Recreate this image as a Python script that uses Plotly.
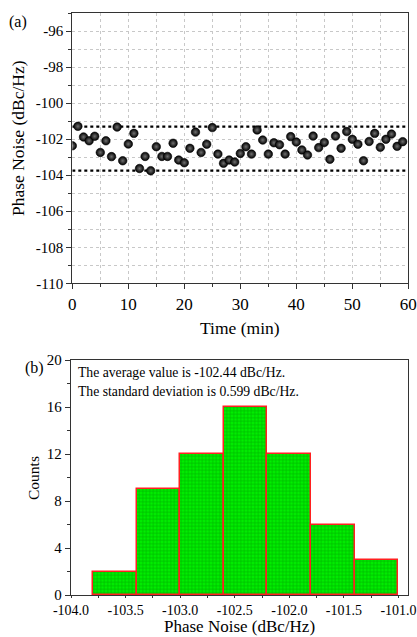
import plotly.graph_objects as go

# ---------------- data ----------------
time_min = list(range(60))
phase_noise = [
    -102.37, -101.29, -101.88, -102.09, -101.84, -102.74, -102.09, -102.97, -101.33, -103.20,
    -102.27, -101.68, -103.63, -102.96, -103.75, -102.42, -102.96, -102.96, -102.23, -103.16,
    -103.31, -102.51, -101.61, -102.74, -102.28, -101.36, -102.83, -103.34, -103.16, -103.27,
    -102.79, -102.42, -102.83, -101.49, -102.05, -102.83, -102.20, -102.31, -102.83, -101.86,
    -102.16, -102.60, -102.88, -101.83, -102.47, -102.18, -103.12, -101.83, -102.51, -101.58,
    -102.01, -102.28, -103.20, -102.13, -101.68, -102.45, -102.01, -101.72, -102.40, -102.14,
]
limit_levels = [-101.3, -103.75]
time_span = [0, 60]

time_ticks = [0, 10, 20, 30, 40, 50, 60]
pn_ticks = [-110, -108, -106, -104, -102, -100, -98, -96]
pn_tick_labels = ["-110", "-108", "-106", "-104", "-102", "-100", "-98", "-96"]

bin_edges = [-103.8, -103.4, -103.0, -102.6, -102.2, -101.8, -101.4, -101.0]
counts = [2, 9, 12, 16, 12, 6, 3]
hist_x_ticks = [-104.0, -103.5, -103.0, -102.5, -102.0, -101.5, -101.0]
hist_x_labels = ["-104.0", "-103.5", "-103.0", "-102.5", "-102.0", "-101.5", "-101.0"]
count_ticks = [0, 4, 8, 12, 16, 20]

stats_lines = ["The average value is -102.44 dBc/Hz.",
               "The standard deviation is 0.599 dBc/Hz."]

# ---------------- figure ----------------
FONT = "Liberation Serif, Times New Roman, serif"
W, H = 417, 637

def px_x(p):
    return p / W

def px_y(p):
    return 1 - p / H

fig = go.Figure()

# limit lines
for lv in limit_levels:
    fig.add_trace(go.Scatter(
        x=time_span, y=[lv, lv], mode="lines",
        line=dict(color="black", width=2.2, dash="dot"),
        xaxis="x", yaxis="y", showlegend=False, hoverinfo="skip"))

# data points (glossy black spheres)
fig.add_trace(go.Scatter(
    x=time_min, y=phase_noise, mode="markers",
    marker=dict(size=8.5, color="black",
                gradient=dict(type="radial", color="#707070"),
                line=dict(color="black", width=0.6)),
    xaxis="x", yaxis="y", showlegend=False))

# histogram bars
centers = [(a + b) / 2 for a, b in zip(bin_edges[:-1], bin_edges[1:])]
widths = [b - a for a, b in zip(bin_edges[:-1], bin_edges[1:])]
fig.add_trace(go.Bar(
    x=centers, y=counts, width=widths,
    marker=dict(color="#00ee00",
                line=dict(color="#ff2020", width=1.5),
                pattern=dict(shape="+", fgcolor="#008000", bgcolor="#00ee00",
                             size=3.5, solidity=0.35)),
    xaxis="x2", yaxis="y2", showlegend=False))

axis_common = dict(
    showline=True, linecolor="#333333", linewidth=1.3, mirror=True,
    ticks="outside", tickwidth=1, tickcolor="#333333",
    zeroline=False, automargin=False, ticklabeloverflow="allow",
)

fig.update_layout(
    width=W, height=H,
    margin=dict(l=0, r=0, t=0, b=0),
    paper_bgcolor="white", plot_bgcolor="white",
    font=dict(family=FONT, color="black"),
    bargap=0,
    xaxis=dict(
        domain=[px_x(72.3), px_x(408.3)], anchor="y",
        range=[0, 60], tickmode="array", tickvals=time_ticks, ticklen=5,
        tickfont=dict(family=FONT, size=17, color="black"),
        showgrid=True, gridcolor="#c8c8c8", griddash="dot", gridwidth=1,
        minor=dict(dtick=5, tick0=0, ticks="outside", ticklen=3, showgrid=True,
                   gridcolor="#c8c8c8", griddash="dot", tickcolor="#333333"),
        **axis_common),
    yaxis=dict(
        domain=[px_y(283.3), px_y(13)], anchor="x",
        range=[-110, -95], tickmode="array", tickvals=pn_ticks, ticktext=pn_tick_labels,
        ticklen=5, tickfont=dict(family=FONT, size=15, color="black"),
        showgrid=True, gridcolor="#c8c8c8", griddash="dot", gridwidth=1,
        minor=dict(dtick=1, tick0=-110, ticks="outside", ticklen=3, showgrid=True,
                   gridcolor="#c8c8c8", griddash="dot", tickcolor="#333333"),
        **axis_common),
    xaxis2=dict(
        domain=[px_x(71), px_x(408.3)], anchor="y2",
        range=[-104.0, -100.91], tickmode="array", tickvals=hist_x_ticks, ticktext=hist_x_labels,
        ticklen=2, tickfont=dict(family=FONT, size=14, color="black"),
        showgrid=False,
        minor=dict(dtick=0.25, tick0=-104, ticks="outside", ticklen=2, tickcolor="#333333"),
        **axis_common),
    yaxis2=dict(
        domain=[px_y(595), px_y(360)], anchor="x2",
        range=[0, 20], tickmode="array", tickvals=count_ticks,
        ticklen=5, tickfont=dict(family=FONT, size=15, color="black"),
        showgrid=False,
        minor=dict(dtick=2, tick0=0, ticks="outside", ticklen=3, tickcolor="#333333"),
        **axis_common),
)

def label(text, x, y, size, angle=0, anchor="center", yanchor="middle"):
    fig.add_annotation(text=text, x=px_x(x), y=px_y(y), xref="paper", yref="paper",
                       xanchor=anchor, yanchor=yanchor, showarrow=False, textangle=angle,
                       borderpad=0,
                       font=dict(family=FONT, size=size, color="black"))

# axis titles
label("Time (min)", 240.3, 328, 17.5)
label("Phase Noise (dBc/Hz)", 18, 138, 17.5, angle=-90)
label("Phase Noise (dBc/Hz)", 239.6, 637, 17, yanchor="bottom")
label("Counts", 33, 478, 15.5, angle=-90)

# panel letters
label("(a)", 8, 22, 16, anchor="left")
label("(b)", 24, 368, 16, anchor="left")

# statistics text
for i, line in enumerate(stats_lines):
    label(line, 77, 373 + 18.5 * i, 13.7, anchor="left")

fig.write_html("out.html", config={"displayModeBar": False},
               post_script="document.body.style.margin='0';document.body.style.overflow='hidden';")
